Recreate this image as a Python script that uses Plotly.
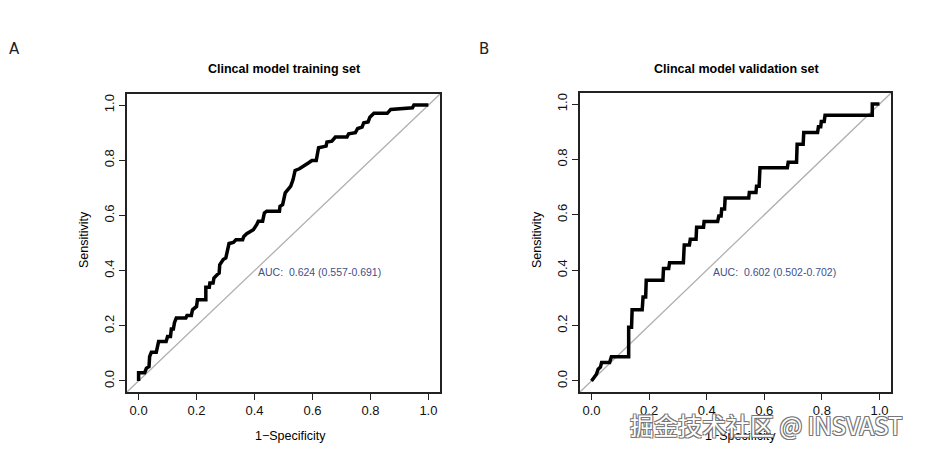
import plotly.graph_objects as go

# ---- data ----
train_fpr = [0, 0, 0.021, 0.027, 0.036, 0.038, 0.044, 0.061, 0.069, 0.095, 0.1, 0.11, 0.113, 0.12, 0.124,
             0.13, 0.163, 0.167, 0.182, 0.186, 0.2, 0.203, 0.232, 0.232, 0.244, 0.246, 0.257, 0.26, 0.271,
             0.278, 0.28, 0.292, 0.301, 0.309, 0.312, 0.327, 0.336, 0.359, 0.363, 0.373, 0.384, 0.396,
             0.408, 0.413, 0.428, 0.434, 0.442, 0.486, 0.488, 0.497, 0.506, 0.517, 0.525, 0.533, 0.54,
             0.555, 0.57, 0.587, 0.598, 0.613, 0.621, 0.647, 0.65, 0.667, 0.679, 0.719, 0.725, 0.748,
             0.756, 0.771, 0.777, 0.792, 0.798, 0.812, 0.858, 0.87, 0.945, 0.95, 1.0]
train_tpr = [0, 0.03, 0.03, 0.046, 0.052, 0.088, 0.104, 0.104, 0.143, 0.143, 0.161, 0.161, 0.188, 0.188,
             0.212, 0.228, 0.228, 0.237, 0.237, 0.258, 0.27, 0.294, 0.294, 0.34, 0.34, 0.355, 0.355, 0.373,
             0.385, 0.391, 0.421, 0.44, 0.446, 0.476, 0.498, 0.502, 0.512, 0.512, 0.524, 0.534, 0.542,
             0.548, 0.567, 0.579, 0.579, 0.609, 0.615, 0.615, 0.633, 0.639, 0.682, 0.694, 0.706, 0.73,
             0.763, 0.769, 0.781, 0.791, 0.799, 0.799, 0.845, 0.851, 0.866, 0.869, 0.884, 0.884, 0.896,
             0.9, 0.915, 0.92, 0.936, 0.939, 0.956, 0.97, 0.97, 0.984, 0.99, 1.0, 1.0]

valid_fpr = [0, 0.012, 0.017, 0.023, 0.031, 0.035, 0.063, 0.069, 0.129, 0.129, 0.139, 0.141, 0.176, 0.179,
             0.188, 0.19, 0.248, 0.25, 0.268, 0.271, 0.319, 0.322, 0.34, 0.343, 0.363, 0.365, 0.389, 0.391,
             0.438, 0.442, 0.45, 0.452, 0.462, 0.464, 0.546, 0.548, 0.571, 0.573, 0.582, 0.585, 0.68,
             0.683, 0.712, 0.714, 0.735, 0.737, 0.785, 0.788, 0.796, 0.798, 0.808, 0.811, 0.975, 0.975, 1.0]
valid_tpr = [0, 0.018, 0.024, 0.042, 0.05, 0.067, 0.067, 0.087, 0.087, 0.194, 0.194, 0.257, 0.257, 0.303,
             0.303, 0.364, 0.364, 0.406, 0.406, 0.427, 0.427, 0.491, 0.491, 0.512, 0.512, 0.555, 0.555,
             0.576, 0.576, 0.596, 0.596, 0.621, 0.621, 0.661, 0.661, 0.681, 0.681, 0.703, 0.703, 0.77,
             0.77, 0.79, 0.79, 0.855, 0.855, 0.897, 0.897, 0.918, 0.918, 0.937, 0.937, 0.96, 0.96, 1.0, 1.0]

titles = ["Clincal model training set", "Clincal model validation set"]
auc_labels = ["AUC:  0.624 (0.557-0.691)", "AUC:  0.602 (0.502-0.702)"]
panel_letters = ["A", "B"]
tick_vals = [0.0, 0.2, 0.4, 0.6, 0.8, 1.0]
tick_text = ["0.0", "0.2", "0.4", "0.6", "0.8", "1.0"]

FONT = "Liberation Sans, Arial, Helvetica, sans-serif"
W, H = 926, 453

fig = go.Figure()

curves = [(train_fpr, train_tpr, "x", "y"), (valid_fpr, valid_tpr, "x2", "y2")]
for fpr, tpr, xa, ya in curves:
    fig.add_trace(go.Scatter(x=[-0.05, 1.05], y=[-0.05, 1.05], mode="lines",
                             line=dict(color="#b0b0b0", width=1.3), xaxis=xa, yaxis=ya,
                             hoverinfo="skip", showlegend=False))
    fig.add_trace(go.Scatter(x=fpr, y=tpr, mode="lines",
                             line=dict(color="black", width=3.5), xaxis=xa, yaxis=ya,
                             showlegend=False))

# plot boxes in pixels
boxes = [(127, 440, 94, 392), (580, 891, 93, 392)]

def px_x(v):
    return v / W

def px_y(v):
    return 1 - v / H

axis_common = dict(range=[-0.04, 1.04], showgrid=False, zeroline=False, showline=True,
                   linecolor="#222222", linewidth=1.5, mirror=True, ticks="outside",
                   ticklen=6, tickwidth=1.2, tickcolor="#222222", tickvals=tick_vals,
                   ticktext=tick_text, tickfont=dict(family=FONT, size=13, color="#111111"),
                   fixedrange=True)

layout = dict(width=W, height=H, margin=dict(l=0, r=0, t=0, b=0),
              paper_bgcolor="white", plot_bgcolor="white", showlegend=False)

for i, (x0, x1, y0, y1) in enumerate(boxes):
    sfx = "" if i == 0 else str(i + 1)
    layout["xaxis" + sfx] = dict(axis_common, domain=[px_x(x0), px_x(x1)],
                                 anchor="y" + sfx)
    layout["yaxis" + sfx] = dict(axis_common, domain=[px_y(y1), px_y(y0)],
                                 anchor="x" + sfx, tickangle=-90)

fig.update_layout(**layout)

annotations = []
title_x = [284, 736]
xtitle_x = [290, 740]
ytitle_x = [84, 537]
letter_x = [14, 484]
auc_pos = [(0.623, 0.396), (0.634, 0.394)]
for i in range(2):
    sfx = "" if i == 0 else str(i + 1)
    annotations.append(dict(text="<b>" + titles[i] + "</b>", x=px_x(title_x[i]), y=px_y(69),
                            xref="paper", yref="paper", showarrow=False,
                            font=dict(family=FONT, size=12.5, color="black"),
                            xanchor="center", yanchor="middle"))
    annotations.append(dict(text="1\u2212Specificity", x=px_x(xtitle_x[i]), y=px_y(436),
                            xref="paper", yref="paper", showarrow=False,
                            font=dict(family=FONT, size=12.5, color="black"),
                            xanchor="center", yanchor="middle"))
    annotations.append(dict(text="Sensitivity", x=px_x(ytitle_x[i]), y=px_y(240),
                            xref="paper", yref="paper", showarrow=False, textangle=-90,
                            font=dict(family=FONT, size=12.5, color="black"),
                            xanchor="center", yanchor="middle"))
    annotations.append(dict(text=panel_letters[i], x=px_x(letter_x[i]), y=px_y(49),
                            xref="paper", yref="paper", showarrow=False,
                            font=dict(family="DejaVu Sans, sans-serif", size=15, color="#222222"),
                            xanchor="center", yanchor="middle"))
    annotations.append(dict(text=auc_labels[i], x=auc_pos[i][0], y=auc_pos[i][1],
                            xref="x" + sfx, yref="y" + sfx, showarrow=False,
                            font=dict(family=FONT, size=10.5, color="#3f4f8a"),
                            xanchor="center", yanchor="middle"))

# watermark
annotations.append(dict(text="掘金技术社区 @ INSVAST", x=px_x(766), y=px_y(424),
                        xref="paper", yref="paper", showarrow=False,
                        font=dict(family="Noto Sans CJK SC, sans-serif", size=24, color="white",
                                  shadow="-1px -1px 0 #777, 1px -1px 0 #777, -1px 1px 0 #777, 1px 1px 0 #777"),
                        xanchor="center", yanchor="middle"))

fig.update_layout(annotations=annotations)

fig.write_html("out.html")
